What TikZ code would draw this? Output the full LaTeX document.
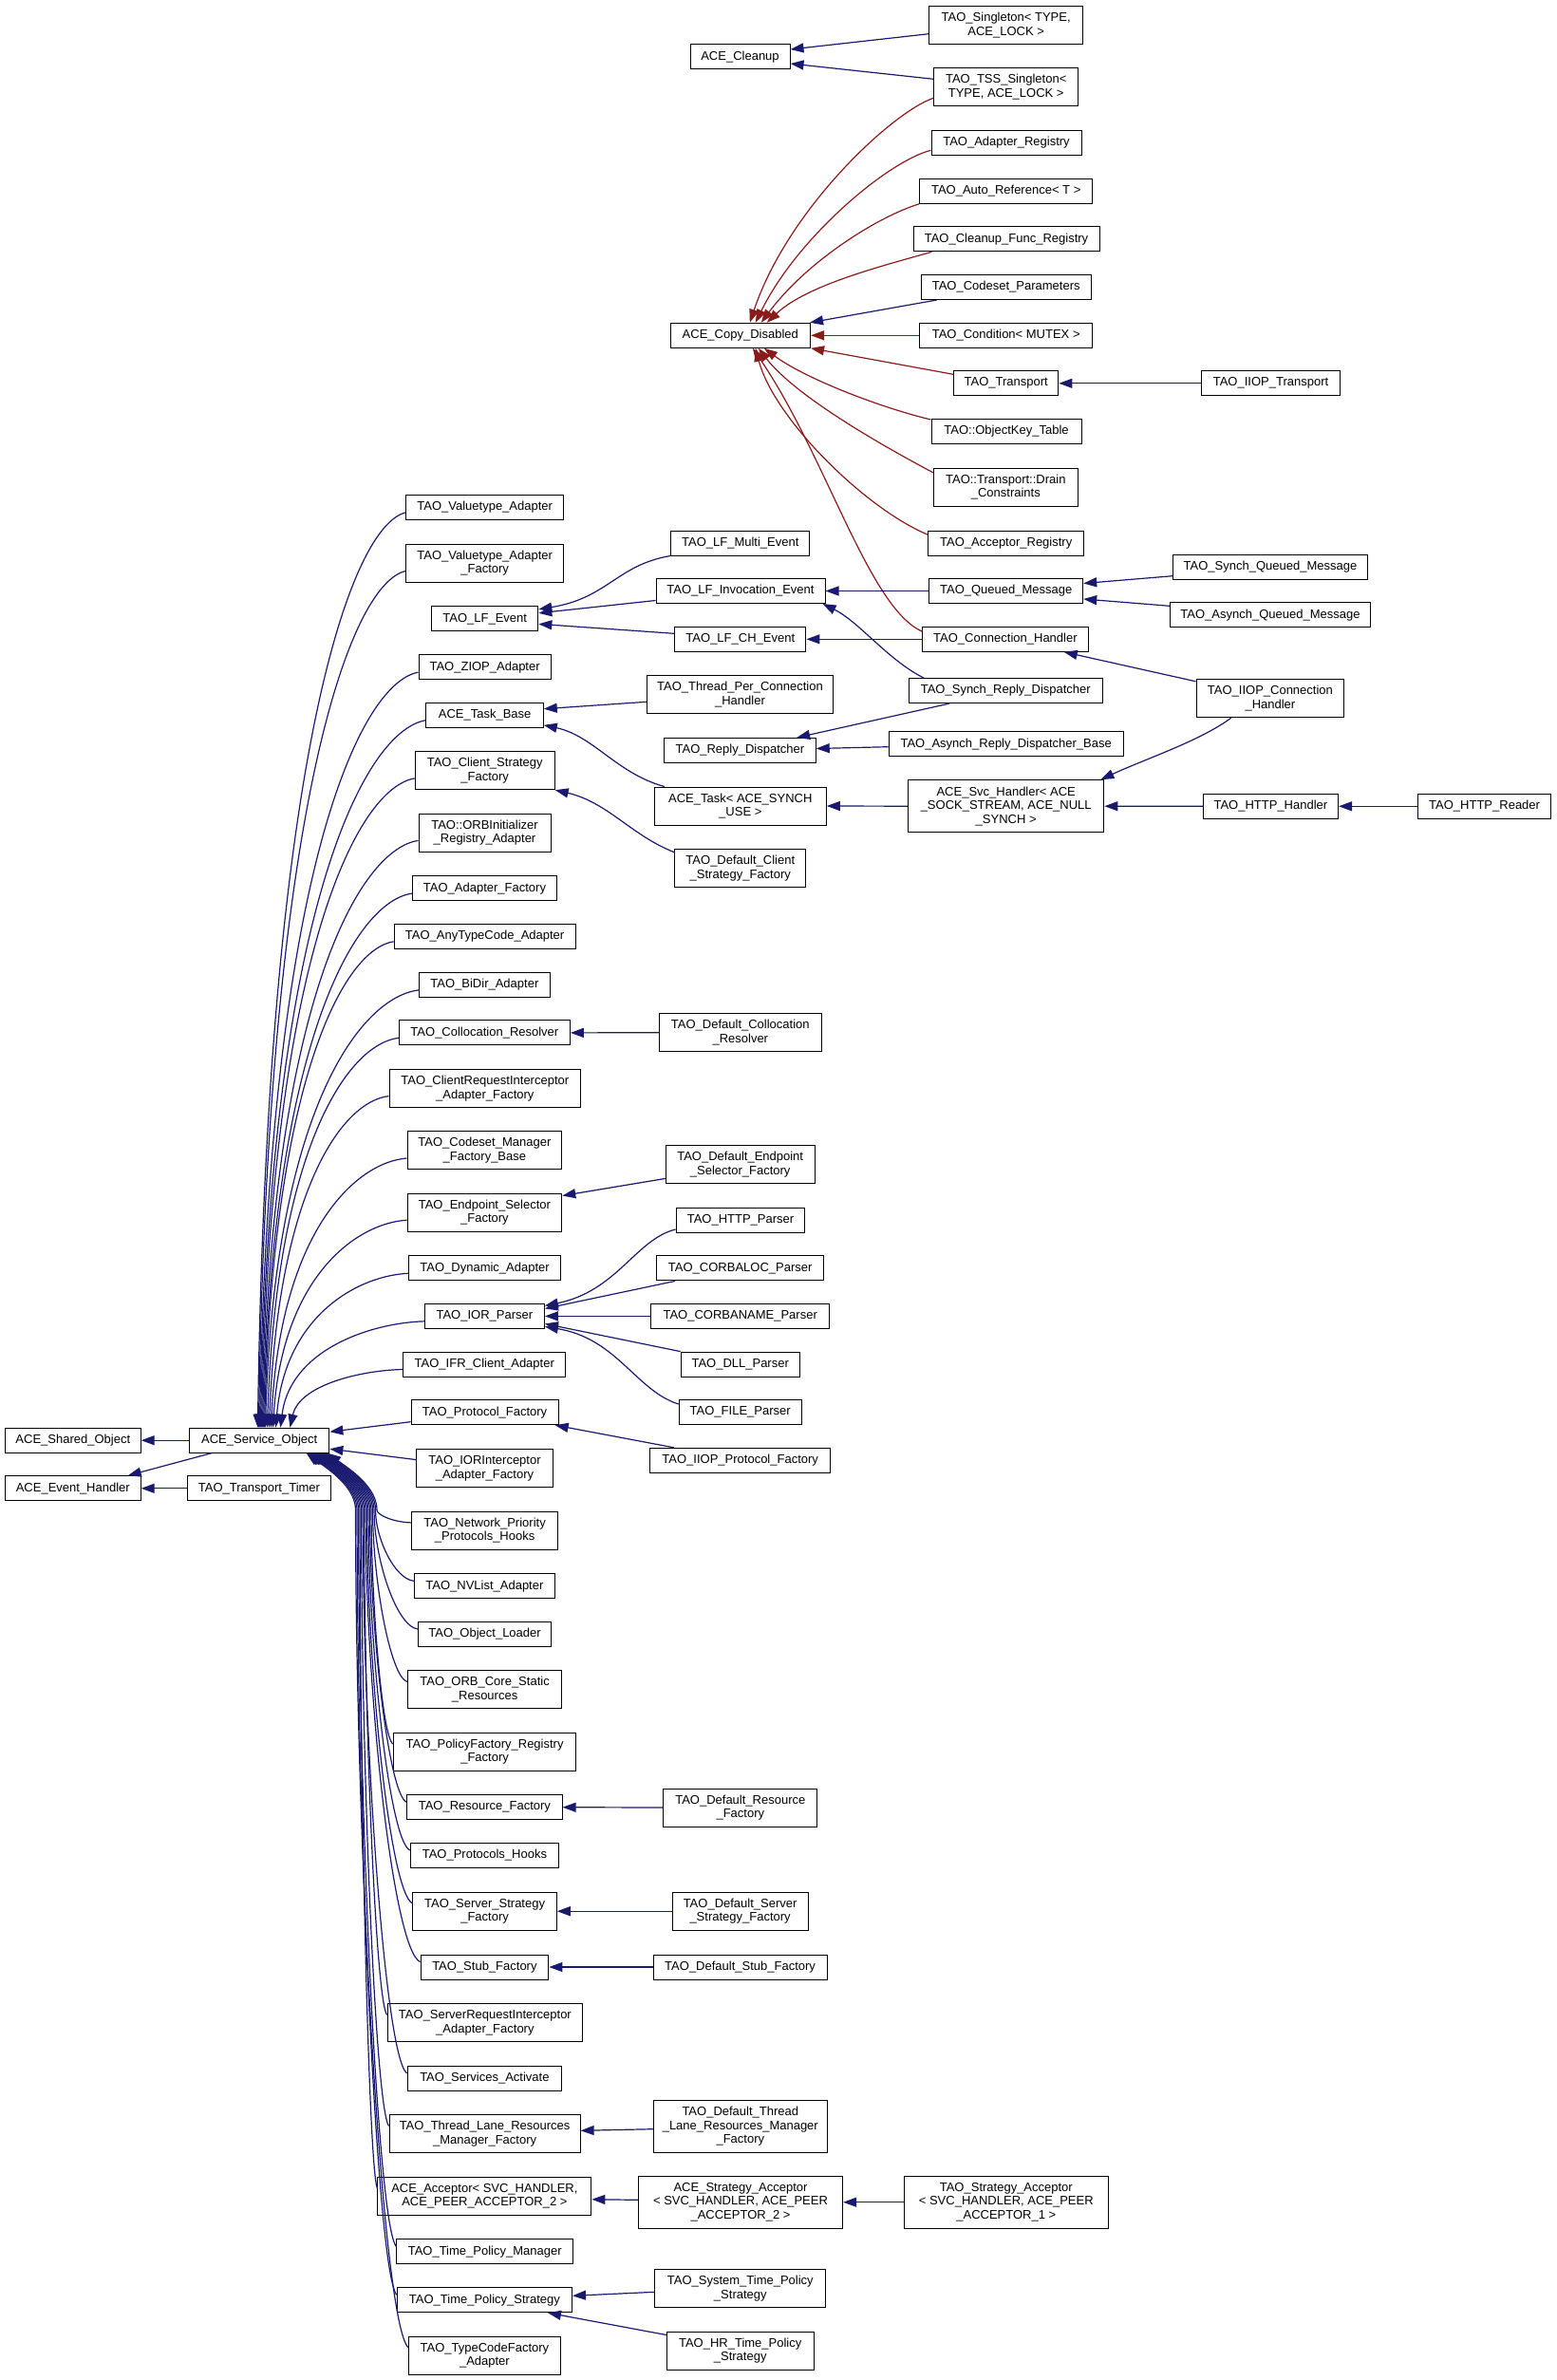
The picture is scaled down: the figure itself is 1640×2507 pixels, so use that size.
\documentclass[tikz,border=0pt]{standalone}
\usepackage{fontspec}
\setmainfont{Liberation Sans}
\usetikzlibrary{arrows.meta,calc}
\definecolor{navyc}{HTML}{191970}
\definecolor{redc}{HTML}{8B1A1A}
\tikzset{
  cls/.style={draw=black, line width=1pt, fill=white, inner sep=0pt, align=center, font=\fontsize{13}{14.5}\selectfont},
  bl/.style={draw=navyc, line width=1.2pt, -{Triangle[length=14pt,width=10pt]}},
  rd/.style={draw=redc, line width=1.2pt, -{Triangle[length=14pt,width=10pt]}},
}
\newcommand\mknode[5]{\node[cls, minimum width=#4pt, minimum height=#5pt] (#1) at (#2) {#3};}
\newcommand\upfan[2]{%
 \draw[bl] let \p1=($(#1.south west)!0.3!(#1.north west)$), \p2=($(so.north west)+(#2,0)$) in
 (\p1) .. controls ({\x1-0.375*(\x1-\x2)},{\y1-0.015*(\y1-\y2)}) and ({\x2+10pt},{\y1-0.27*(\y1-\y2)}) .. (\p2);}
\newcommand\lofan[2]{%
 \draw[bl] let \p1=($(#1.south west)!0.7!(#1.north west)$), \p2=($(so.south west)+(#2,0)$), \p3=($(so.south west)+(#2+52,60)$) in
 (\p1) .. controls ({\x1-0.5*(\x1-\x3)},{\y1+0.03*(\y3-\y1)}) and ({\x3},{\y3-0.4*(\y3-\y1)}) .. (\p3)
 .. controls ({\x3},{\y3+25pt}) and ({\x2+22pt},{\y2-16pt}) .. (\p2);}
\begin{document}
\begin{tikzpicture}[x=1pt,y=-1pt]
\fill[white] (0,0) rectangle (1640,2507);
\useasboundingbox (0,0) rectangle (1640,2507);
% nodes
\mknode{sing}{1059.7,26.7}{TAO\_Singleton< TYPE,\\ ACE\_LOCK >}{162}{40}
\mknode{clean}{779.5,60}{ACE\_Cleanup}{105}{26}
\mknode{tss}{1059.7,91.8}{TAO\_TSS\_Singleton<\\ TYPE, ACE\_LOCK >}{152}{40}
\mknode{adreg}{1060,150.3}{TAO\_Adapter\_Registry}{158}{26}
\mknode{autoref}{1059.7,201.3}{TAO\_Auto\_Reference< T >}{182}{26}
\mknode{cfreg}{1060,251.8}{TAO\_Cleanup\_Func\_Registry}{196}{26}
\mknode{csparam}{1059.7,302.5}{TAO\_Codeset\_Parameters}{179}{26}
\mknode{copy}{779.8,353.3}{ACE\_Copy\_Disabled}{147.5}{26}
\mknode{cond}{1059.7,353.3}{TAO\_Condition< MUTEX >}{182}{26}
\mknode{trans}{1059.7,403.8}{TAO\_Transport}{110.3}{26}
\mknode{iioptr}{1338.5,403.8}{TAO\_IIOP\_Transport}{146.3}{26}
\mknode{okt}{1060,454.5}{TAO::ObjectKey\_Table}{158}{26}
\mknode{drain}{1059.3,513.3}{TAO::Transport::Drain\\ \_Constraints}{152}{40}
\mknode{vta}{510.7,534.5}{TAO\_Valuetype\_Adapter}{166}{26}
\mknode{lfm}{779.8,572}{TAO\_LF\_Multi\_Event}{146.3}{26}
\mknode{accreg}{1059.7,572}{TAO\_Acceptor\_Registry}{163.6}{26}
\mknode{vtaf}{510.7,593.3}{TAO\_Valuetype\_Adapter\\ \_Factory}{166}{40}
\mknode{sqm}{1338,597.3}{TAO\_Synch\_Queued\_Message}{204.7}{26}
\mknode{lfi}{780,622.5}{TAO\_LF\_Invocation\_Event}{178}{26}
\mknode{qm}{1059.7,622.5}{TAO\_Queued\_Message}{162}{26}
\mknode{lfe}{510.7,651.8}{TAO\_LF\_Event}{112.3}{26}
\mknode{aqm}{1338,647.8}{TAO\_Asynch\_Queued\_Message}{211}{26}
\mknode{lfch}{779.8,673.3}{TAO\_LF\_CH\_Event}{138.3}{26}
\mknode{ch}{1058.9,673.3}{TAO\_Connection\_Handler}{174.7}{26}
\mknode{ziop}{510.6,702.7}{TAO\_ZIOP\_Adapter}{139.1}{26}
\mknode{tpch}{779.5,731.7}{TAO\_Thread\_Per\_Connection\\ \_Handler}{196}{40}
\mknode{srd}{1059.3,727.5}{TAO\_Synch\_Reply\_Dispatcher}{204}{26}
\mknode{iiopch}{1337.9,735.8}{TAO\_IIOP\_Connection\\ \_Handler}{155.7}{40}
\mknode{tb}{510.6,753.3}{ACE\_Task\_Base}{123.3}{26}
\mknode{rd}{779.4,790.5}{TAO\_Reply\_Dispatcher}{159.7}{26}
\mknode{ard}{1059.7,783.7}{TAO\_Asynch\_Reply\_Dispatcher\_Base}{247.4}{26}
\mknode{csf}{510.7,811.7}{TAO\_Client\_Strategy\\ \_Factory}{147}{40}
\mknode{task}{779.8,849}{ACE\_Task< ACE\_SYNCH\\ \_USE >}{181}{40}
\mknode{svc}{1059.7,849.2}{ACE\_Svc\_Handler< ACE\\ \_SOCK\_STREAM, ACE\_NULL\\ \_SYNCH >}{206.3}{55}
\mknode{httph}{1338.4,849.3}{TAO\_HTTP\_Handler}{142.3}{26}
\mknode{httpr}{1563.6,849.3}{TAO\_HTTP\_Reader}{140.7}{26}
\mknode{orbi}{510.5,877.2}{TAO::ORBInitializer\\ \_Registry\_Adapter}{139}{40}
\mknode{dcsf}{779.8,914.7}{TAO\_Default\_Client\\ \_Strategy\_Factory}{138.3}{40}
\mknode{adf}{510.5,935.7}{TAO\_Adapter\_Factory}{152.2}{26}
\mknode{atc}{510.6,986.4}{TAO\_AnyTypeCode\_Adapter}{190.8}{26}
\mknode{bidir}{510.4,1037.5}{TAO\_BiDir\_Adapter}{137.3}{26}
\mknode{colr}{510.4,1087.9}{TAO\_Collocation\_Resolver}{180}{26}
\mknode{dcolr}{779.8,1087.7}{TAO\_Default\_Collocation\\ \_Resolver}{171}{40}
\mknode{cri}{510.8,1146.4}{TAO\_ClientRequestInterceptor\\ \_Adapter\_Factory}{201.6}{40}
\mknode{csm}{510.4,1211.8}{TAO\_Codeset\_Manager\\ \_Factory\_Base}{162.7}{40}
\mknode{desf}{779.7,1226.6}{TAO\_Default\_Endpoint\\ \_Selector\_Factory}{156.6}{40}
\mknode{esf}{510.4,1277}{TAO\_Endpoint\_Selector\\ \_Factory}{162.7}{40}
\mknode{httpp}{780,1285.4}{TAO\_HTTP\_Parser}{135.8}{26}
\mknode{dyn}{510.6,1335.9}{TAO\_Dynamic\_Adapter}{160.2}{26}
\mknode{cloc}{779.7,1335.9}{TAO\_CORBALOC\_Parser}{176}{26}
\mknode{ior}{510.4,1386.4}{TAO\_IOR\_Parser}{126}{26}
\mknode{cname}{779.7,1386.4}{TAO\_CORBANAME\_Parser}{188.3}{26}
\mknode{ifr}{510.3,1437.1}{TAO\_IFR\_Client\_Adapter}{171}{26}
\mknode{dll}{779.7,1437.1}{TAO\_DLL\_Parser}{125}{26}
\mknode{pf}{510.6,1487.7}{TAO\_Protocol\_Factory}{155.1}{26}
\mknode{filep}{779.7,1487.7}{TAO\_FILE\_Parser}{129}{26}
\mknode{shared}{76.8,1517.2}{ACE\_Shared\_Object}{142.8}{26}
\mknode{so}{273.2,1517.2}{ACE\_Service\_Object}{147.3}{26}
\mknode{iiopf}{779.7,1538.3}{TAO\_IIOP\_Protocol\_Factory}{189.7}{26}
\mknode{iori}{510.5,1546.6}{TAO\_IORInterceptor\\ \_Adapter\_Factory}{143.3}{40}
\mknode{evh}{76.8,1567.8}{ACE\_Event\_Handler}{142.8}{26}
\mknode{ttimer}{273,1567.8}{TAO\_Transport\_Timer}{150.4}{26}
\mknode{npph}{510.6,1612.1}{TAO\_Network\_Priority\\ \_Protocols\_Hooks}{154}{40}
\mknode{nvl}{510.4,1670.7}{TAO\_NVList\_Adapter}{148.2}{26}
\mknode{objl}{510.6,1721.4}{TAO\_Object\_Loader}{140.6}{26}
\mknode{orbcs}{510.6,1779.8}{TAO\_ORB\_Core\_Static\\ \_Resources}{162}{40}
\mknode{pfr}{510.6,1845.2}{TAO\_PolicyFactory\_Registry\\ \_Factory}{192.4}{40}
\mknode{rf}{510.4,1903.7}{TAO\_Resource\_Factory}{163.4}{26}
\mknode{drf}{779.8,1904}{TAO\_Default\_Resource\\ \_Factory}{162}{40}
\mknode{ph}{510.4,1954.4}{TAO\_Protocols\_Hooks}{156.3}{26}
\mknode{ssf}{510.6,2013.2}{TAO\_Server\_Strategy\\ \_Factory}{151.3}{40}
\mknode{dssf}{779.6,2013.2}{TAO\_Default\_Server\\ \_Strategy\_Factory}{142.9}{40}
\mknode{stub}{510.4,2072}{TAO\_Stub\_Factory}{134.8}{26}
\mknode{dstub}{779.6,2072}{TAO\_Default\_Stub\_Factory}{183}{26}
\mknode{sri}{510.9,2130.7}{TAO\_ServerRequestInterceptor\\ \_Adapter\_Factory}{205.6}{40}
\mknode{sact}{510.4,2189.3}{TAO\_Services\_Activate}{162.7}{26}
\mknode{dtl}{779.8,2240}{TAO\_Default\_Thread\\ \_Lane\_Resources\_Manager\\ \_Factory}{183.1}{55}
\mknode{tl}{510.6,2247.7}{TAO\_Thread\_Lane\_Resources\\ \_Manager\_Factory}{201}{40}
\mknode{acc}{510.4,2313.3}{ACE\_Acceptor< SVC\_HANDLER,\\ ACE\_PEER\_ACCEPTOR\_2 >}{225}{40}
\mknode{sacc}{780,2319.7}{ACE\_Strategy\_Acceptor\\ < SVC\_HANDLER, ACE\_PEER\\ \_ACCEPTOR\_2 >}{215.3}{55}
\mknode{tsacc}{1059.8,2319.7}{TAO\_Strategy\_Acceptor\\ < SVC\_HANDLER, ACE\_PEER\\ \_ACCEPTOR\_1 >}{214.8}{55}
\mknode{tpm}{510.7,2371.7}{TAO\_Time\_Policy\_Manager}{185.7}{26}
\mknode{stps}{779.8,2410.7}{TAO\_System\_Time\_Policy\\ \_Strategy}{180.1}{40}
\mknode{tps}{510.4,2422.7}{TAO\_Time\_Policy\_Strategy}{184.2}{26}
\mknode{hrtps}{779.7,2476}{TAO\_HR\_Time\_Policy\\ \_Strategy}{154.6}{40}
\mknode{tcf}{510.4,2481}{TAO\_TypeCodeFactory\\ \_Adapter}{159.7}{40}
% top edges
\draw[bl] ($(sing.west)+(0,9)$) -- ($(clean.east)+(0,-8)$);
\draw[bl] ($(tss.west)+(0,-8.5)$) -- ($(clean.east)+(0,7)$);
\draw[rd] ($(tss.west)+(0,11.5)$) .. controls (940,118) and (830,220) .. ($(copy.north)+(10,0)$);
\draw[rd] ($(adreg.west)+(0,8)$) .. controls (935,170) and (840,250) .. ($(copy.north)+(16,0)$);
\draw[rd] (autoref.south west) .. controls (925,228) and (850,275) .. ($(copy.north)+(22,0)$);
\draw[rd] ($(cfreg.south west)+(20,0)$) .. controls (930,280) and (850,300) .. ($(copy.north)+(28,0)$);
\draw[bl] ($(csparam.south west)+(17,0)$) -- ($(copy.north east)+(-1,0)$);
\draw[rd] (cond.west) -- (copy.east);
\draw[rd] ($(trans.west)+(0,-9.5)$) -- (copy.south east);
\draw[rd] ($(okt.north west)+(0,1)$) .. controls (930,430) and (850,400) .. ($(copy.south)+(25,0)$);
\draw[rd] ($(drain.north west)+(0,5)$) .. controls (940,475) and (840,420) .. ($(copy.south)+(19,0)$);
\draw[rd] ($(accreg.west)+(0,-8.7)$) .. controls (910,535) and (815,440) .. ($(copy.south)+(16,0)$);
\draw[rd] ($(ch.west)+(0,-8.3)$) .. controls (915,640) and (870,480) .. ($(copy.south)+(13,0)$);
\draw[bl] (iioptr.west) -- (trans.east);
% LF area
\draw[bl] (lfm.south west) .. controls (650,595) and (640,630) .. ($(lfe.east)+(0,-10)$);
\draw[bl] ($(lfi.west)+(0,10)$) -- ($(lfe.east)+(0,-6)$);
\draw[bl] ($(lfch.west)+(0,-6)$) -- ($(lfe.east)+(0,5.5)$);
\draw[bl] (qm.west) -- (lfi.east);
\draw[bl] ($(srd.north west)+(16,0)$) .. controls (935,695) and (905,655) .. ($(lfi.south east)+(-3,0)$);
\draw[bl] (ch.west) -- (lfch.east);
\draw[bl] ($(sqm.west)+(0,9.4)$) -- ($(qm.east)+(0,-8)$);
\draw[bl] ($(aqm.west)+(0,-9.5)$) -- ($(qm.east)+(0,8.5)$);
\draw[bl] ($(iiopch.north west)+(0,2.5)$) -- ($(ch.south east)+(-26,0)$);
\draw[bl] ($(tpch.west)+(0,7.6)$) -- ($(tb.east)+(0,-6.6)$);
\draw[bl] ($(task.north west)+(11,0)$) .. controls (650,815) and (625,775) .. ($(tb.south east)+(0,-3)$);
\draw[bl] ($(srd.south west)+(43.5,0)$) -- ($(rd.north east)+(-20.6,0)$);
\draw[bl] ($(ard.west)+(0,3)$) -- ($(rd.east)+(0,-2)$);
\draw[bl] (svc.west) -- (task.east);
\draw[bl] ($(iiopch.south west)+(37,0)$) .. controls (1265,780) and (1205,800) .. ($(svc.north east)+(-4,0)$);
\draw[bl] (httph.west) -- (svc.east);
\draw[bl] (httpr.west) -- (httph.east);
\draw[bl] ($(dcsf.north west)+(0,3.5)$) .. controls (665,880) and (640,845) .. (csf.south east);
% middle
\draw[bl] (dcolr.west) -- (colr.east);
\draw[bl] ($(desf.west)+(0,14.8)$) -- ($(esf.north east)+(0,3)$);
\draw[bl] ($(httpp.west)+(0,9.6)$) .. controls (670,1305) and (650,1360) .. ($(ior.east)+(0,-11)$);
\draw[bl] ($(cloc.south west)+(20,0)$) -- ($(ior.east)+(0,-8)$);
\draw[bl] (cname.west) -- (ior.east);
\draw[bl] (dll.north west) -- ($(ior.east)+(0,8)$);
\draw[bl] ($(filep.west)+(0,-8.7)$) .. controls (670,1465) and (650,1410) .. ($(ior.east)+(0,11)$);
\draw[bl] ($(iiopf.north west)+(25.5,0)$) -- ($(pf.south east)+(-4,0)$);
\draw[bl] (drf.west) -- (rf.east);
\draw[bl] (dssf.west) -- (ssf.east);
\draw[bl] (dstub.west) -- (stub.east);
\draw[bl] ($(dtl.west)+(0,2.7)$) -- ($(tl.east)+(0,-3.4)$);
\draw[bl] ($(sacc.west)+(0,-2.4)$) -- ($(acc.east)+(0,3.4)$);
\draw[bl] (tsacc.west) -- (sacc.east);
\draw[bl] ($(stps.west)+(0,3.6)$) -- ($(tps.east)+(0,-4.4)$);
\draw[bl] ($(hrtps.north west)+(0,4)$) -- ($(tps.south east)+(-26,0)$);
% service object
\draw[bl] (so.west) -- (shared.east);
\draw[bl] ($(so.south west)+(23.6,0)$) -- ($(evh.north east)+(-14,0)$);
\draw[bl] (ttimer.west) -- (evh.east);
\draw[bl] ($(pf.west)+(0,10)$) -- ($(so.east)+(0,-9)$);
\draw[bl] ($(iori.west)+(0,-9)$) -- ($(so.east)+(0,9)$);
\upfan{vta}{72.4}
\upfan{vtaf}{73.4}
\upfan{ziop}{74.4}
\upfan{tb}{75.4}
\upfan{csf}{76.4}
\upfan{orbi}{77.4}
\upfan{adf}{78.4}
\upfan{atc}{79.4}
\upfan{bidir}{80.4}
\upfan{colr}{82.4}
\upfan{cri}{84.4}
\upfan{csm}{86.4}
\upfan{esf}{88.4}
\upfan{dyn}{91.4}
\upfan{ior}{96.4}
\upfan{ifr}{106.4}
\lofan{npph}{146}
\lofan{nvl}{144.5}
\lofan{objl}{143}
\lofan{orbcs}{141.5}
\lofan{pfr}{140}
\lofan{rf}{138.5}
\lofan{ph}{137}
\lofan{ssf}{135.5}
\lofan{stub}{134}
\lofan{sri}{132.5}
\lofan{sact}{131}
\lofan{tl}{129.5}
\lofan{acc}{128}
\lofan{tpm}{126.5}
\lofan{tps}{125}
\lofan{tcf}{123.5}
\end{tikzpicture}
\end{document}
